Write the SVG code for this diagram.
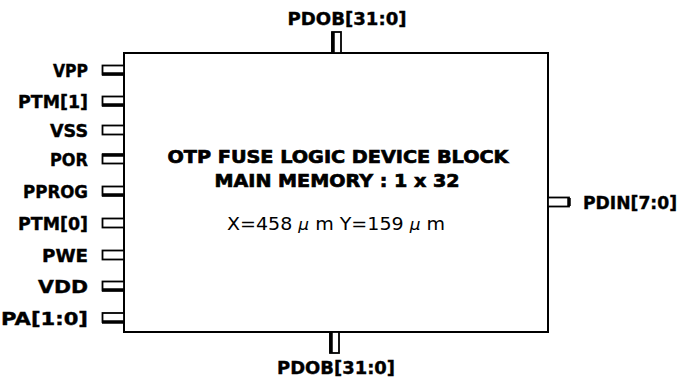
<svg xmlns="http://www.w3.org/2000/svg" width="683" height="380" viewBox="0 0 683 380">
<style>
.lbl{font-family:"DejaVu Sans","Verdana",sans-serif;font-weight:bold;font-size:18px;fill:#000;stroke:#000;stroke-width:0.4}
.title{font-family:"DejaVu Sans","Verdana",sans-serif;font-weight:bold;font-size:18px;fill:#000;stroke:#000;stroke-width:0.7}
.dim{font-family:"DejaVu Sans","Verdana",sans-serif;font-size:18px;fill:#000}
.mu{font-style:italic;font-size:16px}
.pin{fill:#fff;stroke:#000;stroke-width:1.8}
.pinb{stroke:#000;stroke-width:3.5;fill:none}
.box{fill:#fff;stroke:#000;stroke-width:2}
</style>
<g id="block">
<rect class="box" x="124" y="53" width="424" height="279"/>
<text class="title" x="338" y="163" text-anchor="middle" textLength="341" lengthAdjust="spacingAndGlyphs">OTP FUSE LOGIC DEVICE BLOCK</text>
<text class="title" x="337" y="187" text-anchor="middle" textLength="245" lengthAdjust="spacingAndGlyphs">MAIN MEMORY : 1 x 32</text>
<text class="dim" x="336" y="230" text-anchor="middle" textLength="218" lengthAdjust="spacingAndGlyphs">X=458 <tspan class="mu">μ</tspan> m Y=159 <tspan class="mu">μ</tspan> m</text>
</g>
<g id="pins">
<g id="pin-VPP"><rect class="pin" x="102.5" y="65.5" width="21.5" height="9"/><line class="pinb" x1="102" y1="74" x2="124" y2="74"/><text class="lbl" x="88" y="76.5" text-anchor="end" textLength="35" lengthAdjust="spacingAndGlyphs">VPP</text></g>
<g id="pin-PTM1"><rect class="pin" x="102.5" y="96.5" width="21.5" height="9"/><line class="pinb" x1="102" y1="105" x2="124" y2="105"/><text class="lbl" x="88" y="107.5" text-anchor="end" textLength="70" lengthAdjust="spacingAndGlyphs">PTM[1]</text></g>
<g id="pin-VSS"><rect class="pin" x="102.5" y="125.5" width="21.5" height="9"/><text class="lbl" x="88" y="136.5" text-anchor="end" textLength="38" lengthAdjust="spacingAndGlyphs">VSS</text></g>
<g id="pin-POR"><rect class="pin" x="102.5" y="154.5" width="21.5" height="9"/><line class="pinb" x1="102" y1="155" x2="124" y2="155"/><text class="lbl" x="88" y="165.5" text-anchor="end" textLength="38" lengthAdjust="spacingAndGlyphs">POR</text></g>
<g id="pin-PPROG"><rect class="pin" x="102.5" y="186.5" width="21.5" height="9"/><line class="pinb" x1="102" y1="195" x2="124" y2="195"/><text class="lbl" x="88" y="197.5" text-anchor="end" textLength="65" lengthAdjust="spacingAndGlyphs">PPROG</text></g>
<g id="pin-PTM0"><rect class="pin" x="102.5" y="218.5" width="21.5" height="9"/><text class="lbl" x="88" y="229.5" text-anchor="end" textLength="70" lengthAdjust="spacingAndGlyphs">PTM[0]</text></g>
<g id="pin-PWE"><rect class="pin" x="102.5" y="250.5" width="21.5" height="9"/><text class="lbl" x="88" y="261.5" text-anchor="end" textLength="46" lengthAdjust="spacingAndGlyphs">PWE</text></g>
<g id="pin-VDD"><rect class="pin" x="102.5" y="281.5" width="21.5" height="9"/><line class="pinb" x1="102" y1="290" x2="124" y2="290"/><text class="lbl" x="88" y="292.5" text-anchor="end" textLength="50" lengthAdjust="spacingAndGlyphs">VDD</text></g>
<g id="pin-PA"><rect class="pin" x="102.5" y="313" width="21.5" height="9"/><line class="pinb" x1="102" y1="322" x2="124" y2="322"/><text class="lbl" x="88" y="324.5" text-anchor="end" textLength="87" lengthAdjust="spacingAndGlyphs">PA[1:0]</text></g>
<g id="pin-PDOB-top"><rect class="pin" x="332" y="32" width="9" height="21"/><line class="pinb" x1="333" y1="32" x2="333" y2="53"/><text class="lbl" x="347" y="25" text-anchor="middle" textLength="119" lengthAdjust="spacingAndGlyphs">PDOB[31:0]</text></g>
<g id="pin-PDOB-bottom"><rect class="pin" x="330" y="332" width="9" height="21"/><line class="pinb" x1="331" y1="332" x2="331" y2="353"/><text class="lbl" x="336" y="374" text-anchor="middle" textLength="118" lengthAdjust="spacingAndGlyphs">PDOB[31:0]</text></g>
<g id="pin-PDIN"><rect class="pin" x="548" y="197.5" width="21" height="9"/><line class="pinb" x1="569" y1="198" x2="569" y2="206"/><text class="lbl" x="583" y="209" textLength="94" lengthAdjust="spacingAndGlyphs">PDIN[7:0]</text></g>
</g>
</svg>
